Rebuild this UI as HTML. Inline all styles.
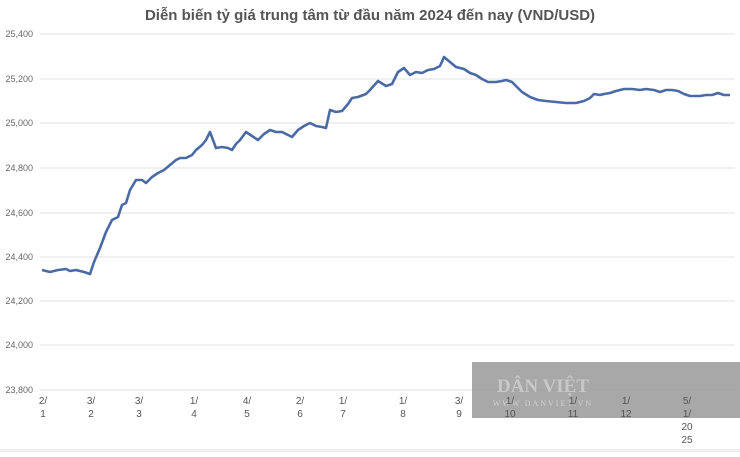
<!DOCTYPE html>
<html><head><meta charset="utf-8"><style>
body{margin:0;background:#fff;width:740px;height:452px;overflow:hidden;font-family:"Liberation Sans",sans-serif}
</style></head><body>
<svg width="740" height="452" xmlns="http://www.w3.org/2000/svg">
<rect width="740" height="452" fill="#fff"/>
<text x="370" y="20" text-anchor="middle" font-family="Liberation Sans, sans-serif" font-size="15" font-weight="bold" fill="#555">Diễn biến tỷ giá trung tâm từ đầu năm 2024 đến nay (VND/USD)</text>
<g stroke="#e2e2e2" stroke-width="1">
<line x1="40" x2="735" y1="34" y2="34"/><line x1="40" x2="735" y1="79" y2="79"/><line x1="40" x2="735" y1="123" y2="123"/><line x1="40" x2="735" y1="168" y2="168"/><line x1="40" x2="735" y1="213" y2="213"/><line x1="40" x2="735" y1="257" y2="257"/><line x1="40" x2="735" y1="301" y2="301"/><line x1="40" x2="735" y1="345" y2="345"/><line x1="40" x2="735" y1="390" y2="390"/>
</g>
<g font-family="Liberation Sans, sans-serif" font-size="9" fill="#666" text-anchor="end">
<text x="33" y="37">25,400</text><text x="33" y="82">25,200</text><text x="33" y="126">25,000</text><text x="33" y="171">24,800</text><text x="33" y="216">24,600</text><text x="33" y="260">24,400</text><text x="33" y="304">24,200</text><text x="33" y="348">24,000</text><text x="33" y="393">23,800</text>
</g>
<rect x="472" y="362" width="268" height="56" fill="#999" opacity="0.85"/>
<text x="543" y="392" text-anchor="middle" font-family="Liberation Serif, serif" font-size="19" font-weight="bold" fill="#c8c8c8">DÂN VIỆT</text>
<text x="543" y="406" text-anchor="middle" font-family="Liberation Serif, serif" font-size="8" fill="#d0d0d0" letter-spacing="2">WWW.DANVIET.VN</text>
<g font-family="Liberation Sans, sans-serif" font-size="10" fill="#555" text-anchor="middle">
<text x="43" y="404">2/</text><text x="43" y="417">1</text>
<text x="91" y="404">3/</text><text x="91" y="417">2</text>
<text x="139" y="404">3/</text><text x="139" y="417">3</text>
<text x="194" y="404">1/</text><text x="194" y="417">4</text>
<text x="247" y="404">4/</text><text x="247" y="417">5</text>
<text x="300" y="404">2/</text><text x="300" y="417">6</text>
<text x="343" y="404">1/</text><text x="343" y="417">7</text>
<text x="403" y="404">1/</text><text x="403" y="417">8</text>
<text x="459" y="404">3/</text><text x="459" y="417">9</text>
<text x="510" y="404">1/</text><text x="510" y="417">10</text>
<text x="573" y="404">1/</text><text x="573" y="417">11</text>
<text x="626" y="404">1/</text><text x="626" y="417">12</text>
<text x="687" y="404">5/</text><text x="687" y="417">1/</text><text x="687" y="430">20</text><text x="687" y="443">25</text>
</g>
<rect x="0" y="449" width="740" height="3" fill="#eee"/>
<polyline fill="none" stroke="#4a6aa5" stroke-width="2.6" stroke-linejoin="round" points="42,270 50,272 58,270 66,269 70,271 76,270 84,272 90,274 94,262 100,248 106,232 112,220 118,217 122,205 126,203 130,190 136,180 142,180 146,183 152,177 158,173 164,170 170,165 176,160 180,158 186,158 192,155 196,150 202,145 206,140 210,132 216,148 222,147 228,148 232,150 236,144 240,140 246,132 252,136 258,140 264,134 270,130 276,132 282,132 288,135 292,137 298,130 304,126 310,123 316,126 322,127 326,128 330,110 336,112 342,111 348,104 352,98 358,97 366,94 370,90 378,81 386,86 392,84 398,72 404,68 410,75 416,72 422,73 428,70 434,69 440,66 444,57 450,62 456,67 460,68 464,69 470,73 476,75 482,79 488,82 496,82 502,81 506,80 512,82 516,86 522,92 530,97 538,100 546,101 556,102 566,103 576,103 584,101 590,98 594,94 600,95 604,94 610,93 616,91 624,89 632,89 640,90 646,89 654,90 660,92 666,90 672,90 678,91 684,94 690,96 700,96 706,95 712,95 718,93 724,95 730,95"/>
</svg>
</body></html>
